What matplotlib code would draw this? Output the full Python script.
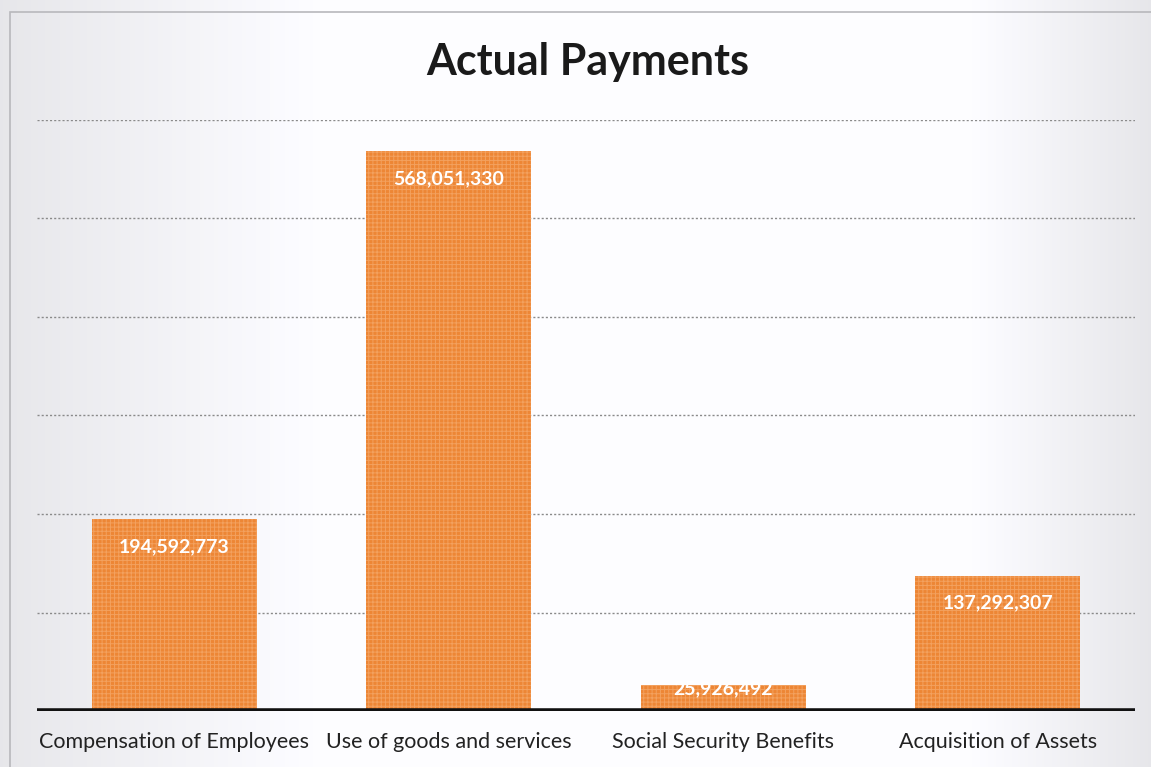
import numpy as np
import matplotlib.pyplot as plt
from matplotlib.patches import Rectangle

categories = ["Compensation of Employees", "Use of goods and services",
              "Social Security Benefits", "Acquisition of Assets"]
payments = [194592773, 568051330, 25926492, 137292307]
grid_levels = [100e6, 200e6, 300e6, 400e6, 500e6, 600e6]

W, H = 1151, 767
fig = plt.figure(figsize=(W / 100, H / 100), dpi=100)
plt.rcParams['font.family'] = ['Lato', 'DejaVu Sans']
plt.rcParams['hatch.linewidth'] = 0.7

# scanned-page background: grey at the edges, white in the middle
bg = fig.add_axes([0, 0, 1, 1], zorder=0)
xs = np.linspace(0, 1, 400)
shade = np.clip(np.minimum(xs / 0.28, (1 - xs) / 0.16), 0, 1)
row = 0.91 + 0.09 * shade
img = np.tile(row, (50, 1))
img = np.dstack([img * 0.995, img * 0.995, np.minimum(img * 1.01, 1)])
bg.imshow(img, aspect='auto', extent=(0, 1, 0, 1))
bg.set_axis_off()
bg.add_patch(Rectangle((10 / W, -0.1), 1.1, 1 - 12 / H + 0.1,
                       fill=False, edgecolor='#b8b8bc', lw=1.2,
                       transform=bg.transAxes))

ax = fig.add_axes([37 / W, (H - 711) / H, (1135 - 37) / W, (711 - 120) / H], zorder=1)
ax.patch.set_alpha(0)
x = np.arange(len(categories))
bars = ax.bar(x, payments, width=0.6, color='#ed8635', hatch='++++',
              linewidth=0, zorder=2)
for b in bars:
    b.set_edgecolor('#f3a15f')
    b.set_linewidth(0)

for g in grid_levels:
    ax.axhline(g, color='#8a8a8a', lw=1, ls=(0, (1.5, 1.5)), zorder=1)
ax.axhline(0, color='#111111', lw=4, zorder=3)

# value labels sit just inside the top of each bar
for xi, v in zip(x, payments):
    dy = -27 if v > 60e6 else -3
    ax.annotate(f"{v:,}", (xi, v), xytext=(0, dy), textcoords='offset pixels',
                ha='center', va='center', color='white', fontsize=14,
                fontweight='bold', zorder=4)

ax.set_xlim(-0.5, len(categories) - 0.5)
ax.set_ylim(0, 600e6)
ax.set_xticks(x)
ax.set_xticklabels(categories, fontsize=15.5, color='#222222')
ax.tick_params(axis='x', length=0, pad=15)
ax.set_yticks([])
for s in ax.spines.values():
    s.set_visible(False)

fig.text(588 / W, 1 - 62 / H, "Actual Payments", ha='center', va='center',
         fontsize=31, fontweight='bold', color='#1a1a1a')

fig.savefig("out.png", dpi=100)
